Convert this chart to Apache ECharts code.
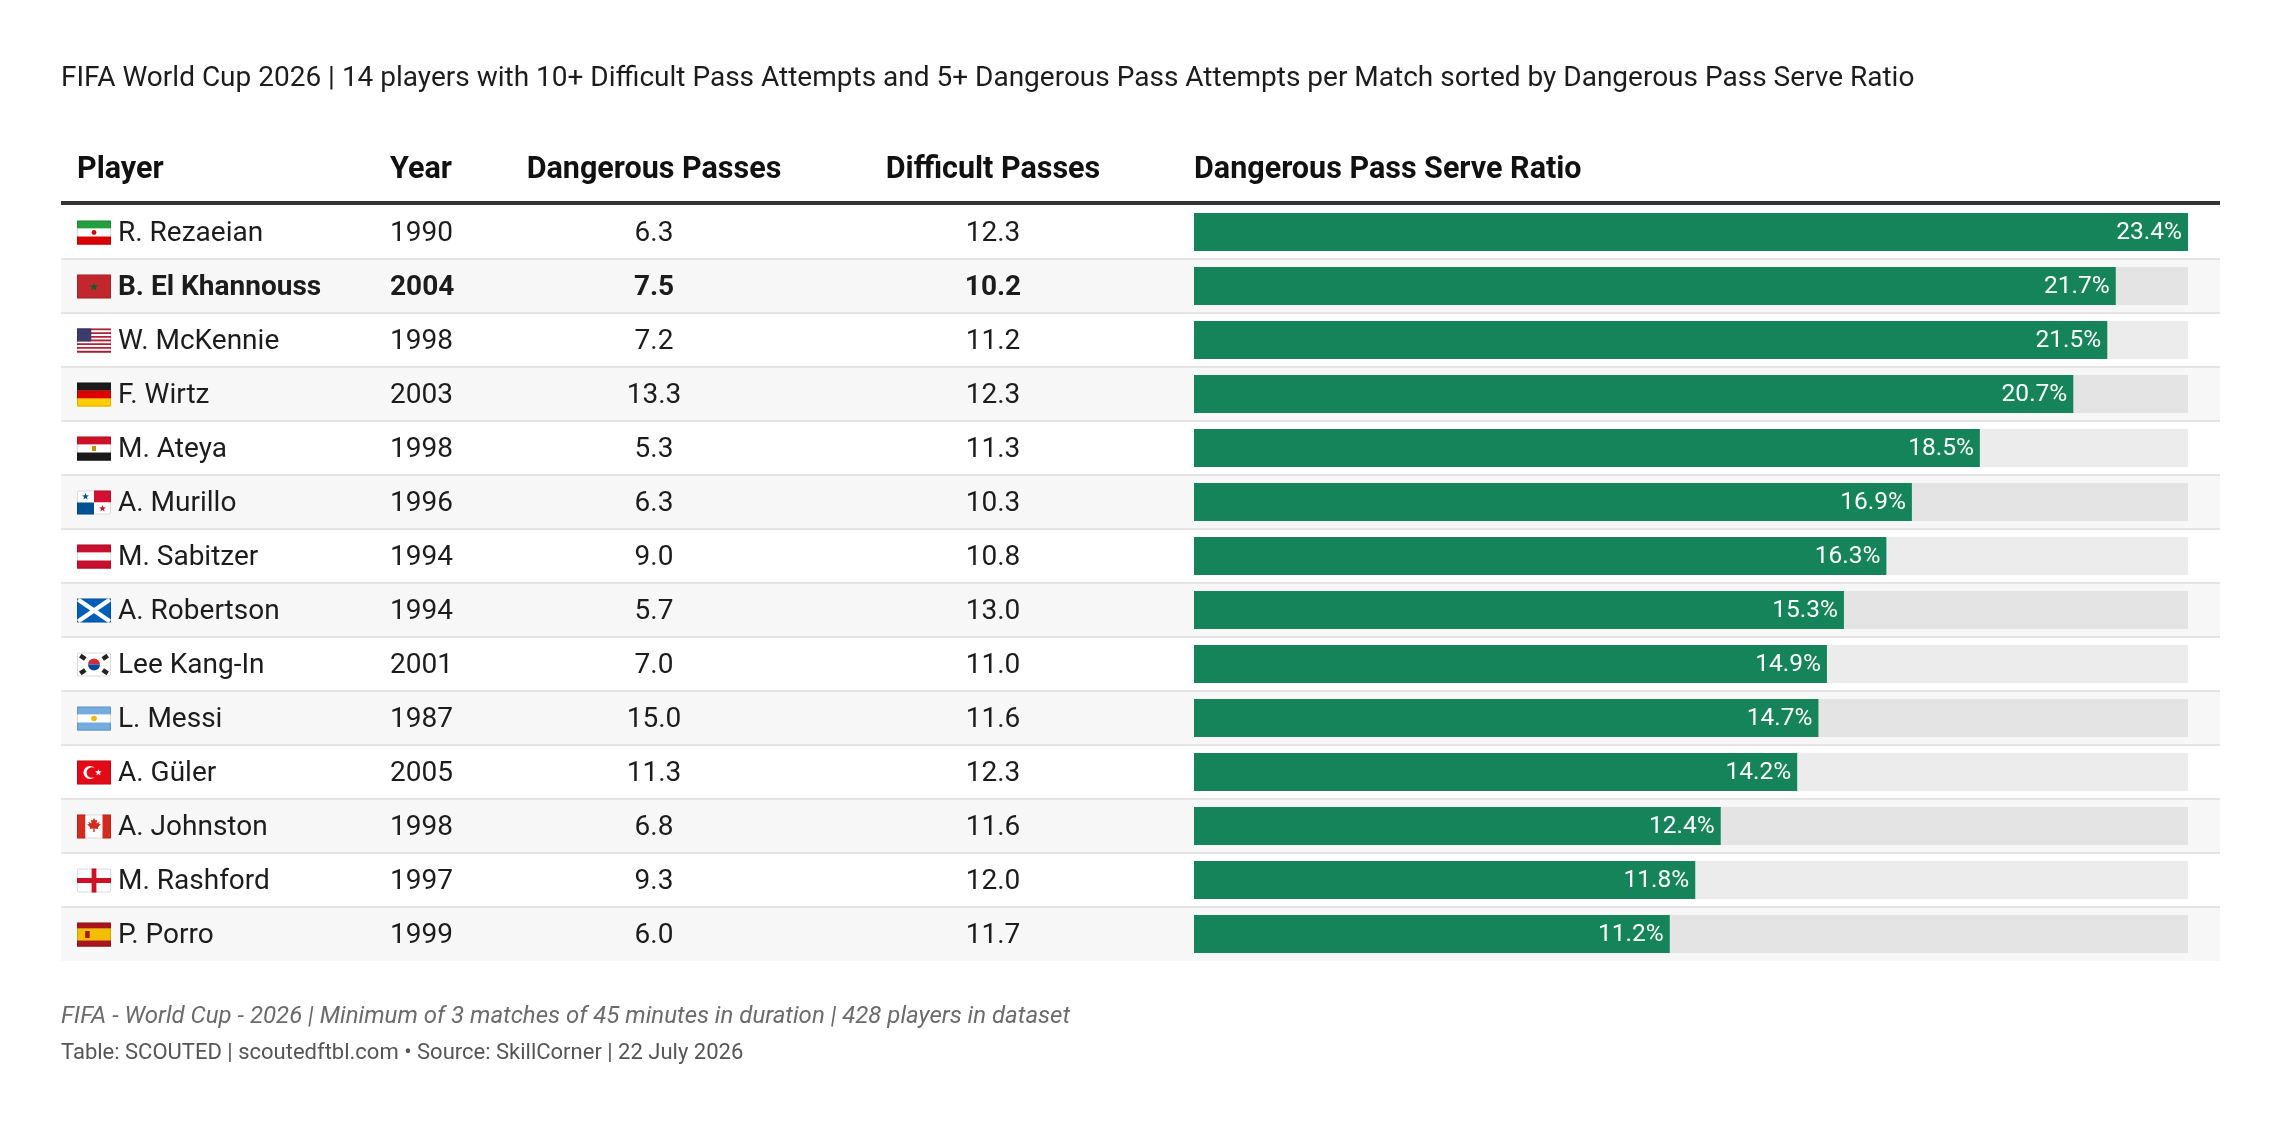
<!DOCTYPE html>
<html>
<head>
<meta charset="utf-8">
<title>Dangerous Pass Serve Ratio</title>
<script src="https://cdn.jsdelivr.net/npm/echarts@6/dist/echarts.min.js"></script>
<style>
  html, body { margin: 0; padding: 0; background: #fff; }
  #chart { width: 2280px; height: 1124px; }
</style>
</head>
<body>
<div id="chart"></div>
<script>
// Table data, sorted by serve ratio
const players = [
  "R. Rezaeian", "B. El Khannouss", "W. McKennie", "F. Wirtz", "M. Ateya",
  "A. Murillo", "M. Sabitzer", "A. Robertson", "Lee Kang-In", "L. Messi",
  "A. Güler", "A. Johnston", "M. Rashford", "P. Porro",
];
const flags = ["IR", "MA", "US", "DE", "EG", "PA", "AT", "SCT", "KR", "AR", "TR", "CA", "ENG", "ES"];
const birthYears = [1990, 2004, 1998, 2003, 1998, 1996, 1994, 1994, 2001, 1987, 2005, 1998, 1997, 1999];
const dangerousPasses = [6.3, 7.5, 7.2, 13.3, 5.3, 6.3, 9.0, 5.7, 7.0, 15.0, 11.3, 6.8, 9.3, 6.0];
const difficultPasses = [12.3, 10.2, 11.2, 12.3, 11.3, 10.3, 10.8, 13.0, 11.0, 11.6, 12.3, 11.6, 12.0, 11.7];
const serveRatio = [23.4, 21.7, 21.5, 20.7, 18.5, 16.9, 16.3, 15.3, 14.9, 14.7, 14.2, 12.4, 11.8, 11.2];
const highlighted = "B. El Khannouss";

const FONT = "Roboto, 'Noto Sans', sans-serif";
const GREEN = "#16845a";

/**
 * Small helpers for drawing flags with zrender shapes
 */
function rect(x, y, w, h, fill) {
  return { type: "rect", shape: { x, y, width: w, height: h }, style: { fill } };
}

function star(cx, cy, r, fill) {
  const points = [];
  for (let k = 0; k < 10; k++) {
    const a = ((-90 + k * 36) * Math.PI) / 180;
    const rr = k % 2 ? r * 0.42 : r;
    points.push([cx + rr * Math.cos(a), cy + rr * Math.sin(a)]);
  }
  return { type: "polygon", shape: { points }, style: { fill } };
}

function hBands(x, y, w, h, colors, weights) {
  const total = weights ? weights.reduce((a, b) => a + b, 0) : colors.length;
  let cur = y;
  return colors.map((c, i) => {
    const bh = (h * (weights ? weights[i] : 1)) / total;
    const r = rect(x, cur, w, bh + 0.3, c);
    cur += bh;
    return r;
  });
}

function drawFlag(code, x, y, w, h) {
  const cx = x + w / 2;
  const cy = y + h / 2;
  let parts = [];
  switch (code) {
    case "IR":
      parts = hBands(x, y, w, h, ["#239f40", "#ffffff", "#da0000"]);
      parts.push({ type: "circle", shape: { cx, cy, r: 2.4 }, style: { fill: "#da0000" } });
      break;
    case "MA":
      parts = [rect(x, y, w, h, "#c1272d")];
      parts.push(star(cx, cy + 0.5, 4.2, "#006233"));
      break;
    case "US": {
      const colors = [];
      for (let k = 0; k < 13; k++) colors.push(k % 2 ? "#ffffff" : "#b22234");
      parts = hBands(x, y, w, h, colors);
      parts.push(rect(x, y, w * 0.42, (h * 7) / 13, "#3c3b6e"));
      break;
    }
    case "DE":
      parts = hBands(x, y, w, h, ["#1a1a1a", "#dd0000", "#ffce00"]);
      break;
    case "EG":
      parts = hBands(x, y, w, h, ["#ce1126", "#ffffff", "#1a1a1a"]);
      parts.push(rect(cx - 2, cy - 2.5, 4, 5, "#c09300"));
      break;
    case "PA":
      parts = [
        rect(x, y, w / 2, h / 2, "#ffffff"),
        rect(cx, y, w / 2, h / 2, "#d21034"),
        rect(x, cy, w / 2, h / 2, "#005293"),
        rect(cx, cy, w / 2, h / 2, "#ffffff"),
        star(x + w / 4, y + h / 4, 3.6, "#005293"),
        star(x + (3 * w) / 4, y + (3 * h) / 4, 3.6, "#d21034"),
      ];
      break;
    case "AT":
      parts = hBands(x, y, w, h, ["#c8102e", "#ffffff", "#c8102e"]);
      break;
    case "SCT":
      parts = [
        rect(x, y, w, h, "#005eb8"),
        { type: "line", shape: { x1: x + 1, y1: y + 1, x2: x + w - 1, y2: y + h - 1 }, style: { stroke: "#fff", lineWidth: 4.5 } },
        { type: "line", shape: { x1: x + w - 1, y1: y + 1, x2: x + 1, y2: y + h - 1 }, style: { stroke: "#fff", lineWidth: 4.5 } },
      ];
      break;
    case "KR": {
      parts = [rect(x, y, w, h, "#ffffff")];
      const r = h * 0.25;
      parts.push({ type: "sector", shape: { cx, cy, r, r0: 0, startAngle: Math.PI, endAngle: 2 * Math.PI }, style: { fill: "#cd2e3a" } });
      parts.push({ type: "sector", shape: { cx, cy, r, r0: 0, startAngle: 0, endAngle: Math.PI }, style: { fill: "#0047a0" } });
      [[-1, -1], [1, -1], [-1, 1], [1, 1]].forEach(([sx, sy]) => {
        parts.push({
          type: "rect",
          shape: { x: -3, y: -2.2, width: 6, height: 4.4 },
          x: cx + sx * w * 0.33,
          y: cy + sy * h * 0.3,
          rotation: sx * sy > 0 ? -0.6 : 0.6,
          style: { fill: "#222" },
        });
      });
      break;
    }
    case "AR":
      parts = hBands(x, y, w, h, ["#74acdf", "#ffffff", "#74acdf"]);
      parts.push({ type: "circle", shape: { cx, cy, r: 2.8 }, style: { fill: "#f6b40e" } });
      break;
    case "TR":
      parts = [
        rect(x, y, w, h, "#e30a17"),
        { type: "circle", shape: { cx: x + w * 0.38, cy, r: h * 0.27 }, style: { fill: "#ffffff" } },
        { type: "circle", shape: { cx: x + w * 0.44, cy, r: h * 0.22 }, style: { fill: "#e30a17" } },
        star(x + w * 0.63, cy, h * 0.14, "#ffffff"),
      ];
      break;
    case "CA": {
      parts = [
        rect(x, y, w / 4, h, "#d52b1e"),
        rect(x + w / 4, y, w / 2, h, "#ffffff"),
        rect(x + (3 * w) / 4, y, w / 4, h, "#d52b1e"),
      ];
      const leaf = [
        [0, -1], [0.15, -0.68], [0.35, -0.8], [0.3, -0.35], [0.65, -0.55], [0.55, -0.3],
        [0.8, -0.25], [0.45, 0.1], [0.5, 0.3], [0.08, 0.22], [0.08, 0.65], [-0.08, 0.65],
        [-0.08, 0.22], [-0.5, 0.3], [-0.45, 0.1], [-0.8, -0.25], [-0.55, -0.3], [-0.65, -0.55],
        [-0.3, -0.35], [-0.35, -0.8], [-0.15, -0.68],
      ].map(([px, py]) => [cx + px * h * 0.36, cy + py * h * 0.36]);
      parts.push({ type: "polygon", shape: { points: leaf }, style: { fill: "#d52b1e" } });
      break;
    }
    case "ENG":
      parts = [
        rect(x, y, w, h, "#ffffff"),
        rect(x, cy - h * 0.1, w, h * 0.2, "#ce1124"),
        rect(cx - h * 0.1, y, h * 0.2, h, "#ce1124"),
      ];
      break;
    case "ES":
      parts = hBands(x, y, w, h, ["#aa151b", "#f1bf00", "#aa151b"], [1, 2, 1]);
      parts.push(rect(x + w * 0.24, cy - 3.5, 4.5, 7, "#ad1519"));
      break;
    default:
      parts = [rect(x, y, w, h, "#ccc")];
  }
  // thin edge so white flags stand out on white rows
  parts.push({
    type: "rect",
    shape: { x: x + 0.5, y: y + 0.5, width: w - 1, height: h - 1, r: 1 },
    style: { fill: "none", stroke: "rgba(0,0,0,0.14)", lineWidth: 1 },
  });
  return parts;
}

function cellText(text, x, y, align, bold) {
  return {
    type: "text",
    style: {
      text,
      x,
      y: y + 2,
      align,
      verticalAlign: "middle",
      fill: "#1c1c1c",
      fontFamily: FONT,
      fontSize: 28,
      fontWeight: bold ? "bold" : "normal",
    },
  };
}

/**
 * Row layer: stripes, separators, flags and text cells
 */
function renderRow(params, api) {
  const i = api.value(1);
  const cs = params.coordSys;
  const cy = api.coord([0, i])[1];
  const rowH = api.size([0, 1])[1];
  const top = cy - rowH / 2;
  const bold = players[i] === highlighted;
  const children = [];

  if (i % 2 === 1) {
    children.push(rect(cs.x, top, cs.width, rowH, "#f7f7f7"));
  }
  if (i > 0) {
    children.push(rect(cs.x, top - 1, cs.width, 2, "#e4e4e4"));
  }
  children.push(...drawFlag(flags[i], cs.x + 16, cy - 11.5, 34, 24));
  children.push(cellText(players[i], cs.x + 57, cy, "left", bold));
  children.push(cellText(String(birthYears[i]), cs.x + 329, cy, "left", bold));
  children.push(cellText(dangerousPasses[i].toFixed(1), cs.x + 593, cy, "center", bold));
  children.push(cellText(difficultPasses[i].toFixed(1), cs.x + 932, cy, "center", bold));

  return { type: "group", children };
}

function headerText(text, x, align) {
  return {
    type: "text",
    style: {
      text,
      x,
      y: 170,
      align,
      verticalAlign: "middle",
      fill: "#111",
      fontFamily: FONT,
      fontSize: 30.5,
      fontWeight: "bold",
    },
  };
}

function init() {
  const chart = echarts.init(document.getElementById("chart"));
  const rowIndex = players.map((_, i) => [0, i]);

  const option = {
    backgroundColor: "#ffffff",
    animation: false,
    grid: [
      { left: 61, top: 205, width: 2159, height: 756 },
      { left: 1194, top: 205, width: 994, height: 756 },
    ],
    xAxis: [
      { gridIndex: 0, type: "value", min: 0, max: 1, show: false },
      { gridIndex: 1, type: "value", min: 0, max: Math.max(...serveRatio), show: false },
    ],
    yAxis: [
      { gridIndex: 0, type: "category", data: players, inverse: true, show: false },
      { gridIndex: 1, type: "category", data: players, inverse: true, show: false },
    ],
    series: [
      {
        type: "custom",
        xAxisIndex: 0,
        yAxisIndex: 0,
        z: 1,
        silent: true,
        renderItem: renderRow,
        encode: { x: 0, y: 1 },
        data: rowIndex,
      },
      {
        type: "bar",
        xAxisIndex: 1,
        yAxisIndex: 1,
        z: 3,
        barWidth: 38,
        showBackground: true,
        backgroundStyle: { color: "rgba(0,0,0,0.075)" },
        itemStyle: { color: GREEN },
        label: {
          show: true,
          position: "insideRight",
          distance: 6,
          offset: [0, 1],
          color: "#ffffff",
          fontFamily: FONT,
          fontSize: 24.5,
          formatter: (p) => p.value.toFixed(1) + "%",
        },
        data: serveRatio,
      },
    ],
    graphic: [
      {
        type: "text",
        style: {
          text: "FIFA World Cup 2026 | 14 players with 10+ Difficult Pass Attempts and 5+ Dangerous Pass Attempts per Match sorted by Dangerous Pass Serve Ratio",
          x: 61,
          y: 79,
          verticalAlign: "middle",
          fill: "#1c1c1c",
          fontFamily: FONT,
          fontSize: 28,
        },
      },
      headerText("Player", 77, "left"),
      headerText("Year", 390, "left"),
      headerText("Dangerous Passes", 654, "center"),
      headerText("Difficult Passes", 993, "center"),
      headerText("Dangerous Pass Serve Ratio", 1194, "left"),
      {
        type: "rect",
        shape: { x: 61, y: 201, width: 2159, height: 4 },
        style: { fill: "#333333" },
      },
      {
        type: "text",
        style: {
          text: "FIFA - World Cup - 2026 | Minimum of 3 matches of 45 minutes in duration | 428 players in dataset",
          x: 61,
          y: 1017,
          verticalAlign: "middle",
          fill: "#6b6b6b",
          fontFamily: FONT,
          fontSize: 24,
          fontStyle: "italic",
        },
      },
      {
        type: "text",
        style: {
          text: "Table: SCOUTED | scoutedftbl.com • Source: SkillCorner | 22 July 2026",
          x: 61,
          y: 1053,
          verticalAlign: "middle",
          fill: "#555555",
          fontFamily: FONT,
          fontSize: 22,
        },
      },
    ],
  };

  chart.setOption(option);
  window.addEventListener("resize", () => chart.resize());
}

document.addEventListener("DOMContentLoaded", init);
</script>
</body>
</html>
